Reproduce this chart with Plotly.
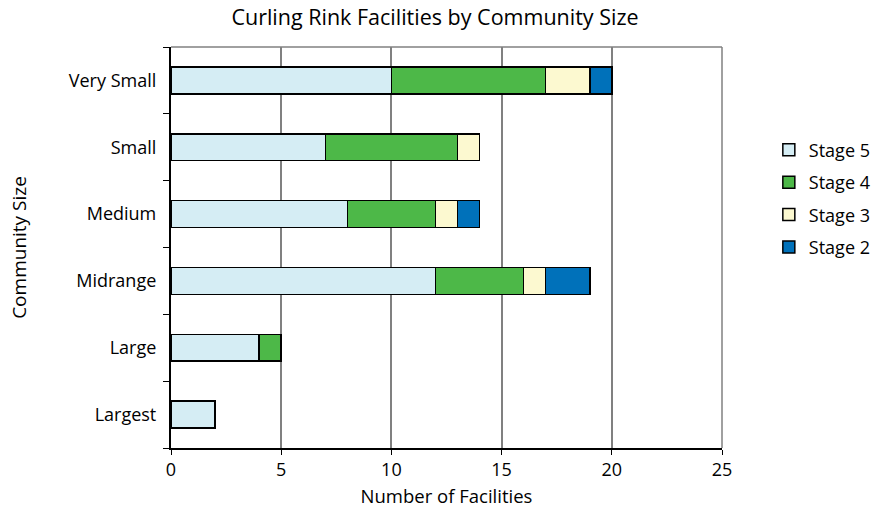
import plotly.graph_objects as go

# Community size groups, listed top to bottom
sizes = ["Very Small", "Small", "Medium", "Midrange", "Large", "Largest"]

# Facility counts per stage for each community size
stage5 = [10, 7, 8, 12, 4, 2]
stage4 = [7, 6, 4, 4, 1, 0]
stage3 = [2, 1, 1, 1, 0, 0]
stage2 = [1, 0, 1, 2, 0, 0]

series = [
    ("Stage 5", stage5, "#D5EDF4"),
    ("Stage 4", stage4, "#4DB848"),
    ("Stage 3", stage3, "#FCF9D0"),
    ("Stage 2", stage2, "#0071BA"),
]

font_family = "Open Sans, Lato, sans-serif"

fig = go.Figure()
for name, vals, color in series:
    fig.add_trace(go.Bar(
        name=name,
        legendgroup=name,
        y=sizes,
        x=vals,
        orientation="h",
        width=0.4,
        marker=dict(color=color, line=dict(color="black", width=1.5)),
    ))

fig.update_layout(
    barmode="stack",
    width=887,
    height=510,
    margin=dict(l=171, r=165, t=47, b=62, autoexpand=False),
    paper_bgcolor="white",
    plot_bgcolor="white",
    font=dict(family=font_family, size=18, color="black"),
    title=dict(
        text="Curling Rink Facilities by Community Size",
        x=435 / 887, xref="container", xanchor="center",
        y=1 - 17 / 510, yref="container", yanchor="middle",
        font=dict(size=21.5),
    ),
    legend=dict(
        x=1.085, xanchor="left",
        y=0.622, yanchor="middle",
        traceorder="grouped",
        font=dict(size=18),
        itemwidth=30,
        tracegroupgap=6,
    ),
    xaxis=dict(
        range=[0, 25],
        tickvals=[0, 5, 10, 15, 20, 25],
        showgrid=True,
        gridcolor="#808080",
        gridwidth=1.5,
        zeroline=False,
        showline=True,
        linecolor="black",
        linewidth=1.5,
        ticks="outside",
        ticklen=5,
        tickcolor="black",
        tickfont=dict(size=18),
        title=dict(text="Number of Facilities", font=dict(size=18.5), standoff=10),
    ),
    yaxis=dict(
        categoryorder="array",
        categoryarray=sizes[::-1],
        showgrid=False,
        showline=True,
        linecolor="black",
        linewidth=1.5,
        ticks="outside",
        tickson="boundaries",
        ticklen=6,
        tickcolor="black",
        ticksuffix="  ",
        tickfont=dict(size=18),
        title=dict(text="Community Size", font=dict(size=19), standoff=37),
    ),
)

# Frame the top and right edges of the plotting area in grey
fig.add_shape(type="line", xref="paper", yref="paper", x0=0, x1=1, y0=1, y1=1,
              line=dict(color="#808080", width=1.5))
fig.add_shape(type="line", xref="paper", yref="paper", x0=1, x1=1, y0=0, y1=1,
              line=dict(color="#808080", width=1.5))

fig.write_html("out.html")
